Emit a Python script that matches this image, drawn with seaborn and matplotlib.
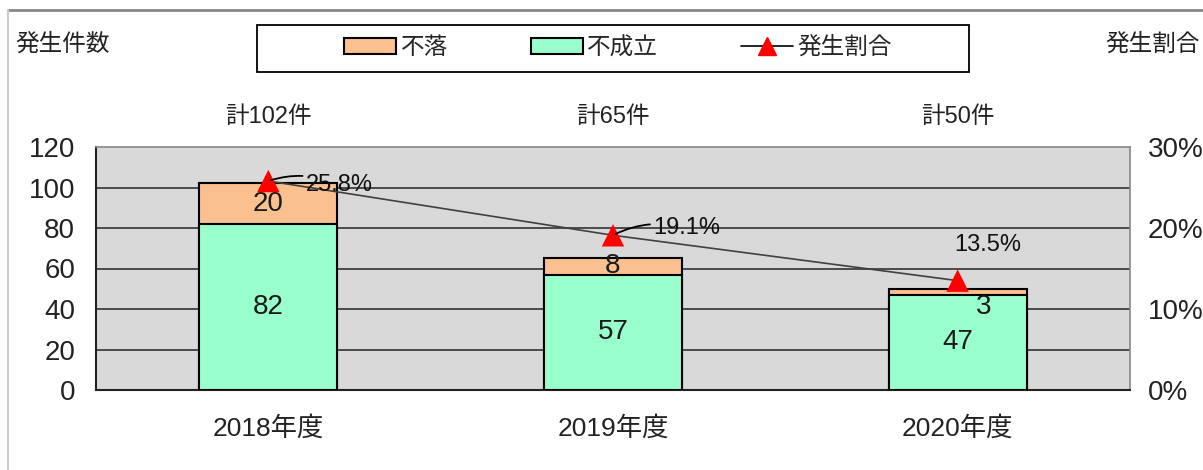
import numpy as np
import pandas as pd
import matplotlib.pyplot as plt
import matplotlib.transforms as mtransforms
from matplotlib.lines import Line2D
from matplotlib.patches import Patch, Rectangle
import seaborn as sns

# data
years = ['2018年度', '2019年度', '2020年度']
furaku = [20, 8, 3]          # 不落
fuseiritsu = [82, 57, 47]    # 不成立
ratio = [25.8, 19.1, 13.5]   # 発生割合 (%)
left_ticks = [0, 20, 40, 60, 80, 100, 120]
right_ticks = [0, 10, 20, 30]

sns.set_style('white')
plt.rcParams['font.family'] = ['Liberation Sans', 'Noto Sans CJK JP', 'DejaVu Sans']

orange = '#FAC090'
green = '#99FFCC'

df = pd.DataFrame({'year': years, 'furaku': furaku, 'fuseiritsu': fuseiritsu})
df['total'] = df['furaku'] + df['fuseiritsu']

fig = plt.figure(figsize=(12.03, 4.70), dpi=100)
ax = fig.add_axes([96 / 1203, 1 - 390 / 470, 1034 / 1203, 243 / 470])
ax.set_facecolor('#D9D9D9')

# stacked bars: total (orange) behind, 不成立 (green) in front
sns.barplot(data=df, x='year', y='total', color=orange, width=0.4,
            edgecolor='black', linewidth=1.5, saturation=1, ax=ax, zorder=3)
sns.barplot(data=df, x='year', y='fuseiritsu', color=green, width=0.4,
            edgecolor='black', linewidth=1.5, saturation=1, ax=ax, zorder=4)

ax.set_ylim(0, 120)
ax.set_yticks(left_ticks)
ax.set_xlim(-0.5, 2.5)
for v in left_ticks[1:-1]:
    ax.axhline(v, color='#404040', lw=1.3, zorder=1)
ax.tick_params(axis='y', labelsize=20, length=0, pad=15, colors='#222222')
ax.tick_params(axis='x', labelsize=19, length=0, pad=19, colors='#222222')
ax.set_xlabel('')
ax.set_ylabel('')
for s in ['left', 'bottom']:
    ax.spines[s].set_color('#222222')
    ax.spines[s].set_linewidth(1.5)
for s in ['top', 'right']:
    ax.spines[s].set_color('#888888')
    ax.spines[s].set_linewidth(1.2)

# value labels inside the bars
x = np.arange(len(years))
for i in x:
    ax.text(i, fuseiritsu[i] / 2, str(fuseiritsu[i]), ha='center', va='center',
            fontsize=20, color='#1a1a1a', zorder=6)
    if furaku[i] >= 5:
        ax.text(i, fuseiritsu[i] + furaku[i] / 2, str(furaku[i]), ha='center',
                va='center', fontsize=20, color='#1a1a1a', zorder=6)
    else:
        # thin slice: label sits just under it, a bit to the right
        ax.annotate(str(furaku[i]), xy=(i, fuseiritsu[i]), xytext=(19, -9),
                    textcoords='offset points', ha='center', va='center',
                    fontsize=20, color='#1a1a1a', zorder=6)

# totals above the plot
trans = mtransforms.blended_transform_factory(ax.transData, ax.transAxes)
for i in x:
    ax.text(i, 1.125, '計' + str(df['total'][i]) + '件', transform=trans,
            ha='center', va='center', fontsize=17, color='#222222')

# ratio line on the right axis
ax2 = ax.twinx()
rdf = pd.DataFrame({'x': x, 'ratio': ratio})
sns.lineplot(data=rdf, x='x', y='ratio', color='#404040', lw=1.2, ax=ax2, zorder=5)
sns.scatterplot(data=rdf, x='x', y='ratio', marker='^', color='red', s=260,
                edgecolor='none', ax=ax2, zorder=6)
ax2.set_ylim(0, 30)
ax2.set_yticks(right_ticks)
ax2.set_yticklabels([str(t) + '%' for t in right_ticks])
ax2.tick_params(axis='y', labelsize=20, length=0, pad=13, colors='#222222')
ax2.set_ylabel('')
ax2.set_xlabel('')
for s in ax2.spines.values():
    s.set_visible(False)

offsets = [(27, -3), (29, 5), (22, 26)]
for i in x:
    dx, dy = offsets[i]
    if i < 2:
        ax2.annotate(f'{ratio[i]:.1f}%', xy=(i, ratio[i]), xytext=(dx, dy),
                     textcoords='offset points', fontsize=17, va='center', ha='left',
                     color='#111111',
                     arrowprops=dict(arrowstyle='-', color='black', lw=1.3,
                                     shrinkA=0, shrinkB=2,
                                     connectionstyle='arc3,rad=0.2'), zorder=7)
    else:
        ax2.annotate(f'{ratio[i]:.1f}%', xy=(i, ratio[i]), xytext=(dx, dy),
                     textcoords='offset points', fontsize=17, va='center', ha='center',
                     color='#111111', zorder=7)

# axis titles
fig.text(15 / 1203, 1 - 45 / 470, '発生件数', fontsize=17, va='center', ha='left', color='#222222')
fig.text(1105 / 1203, 1 - 45 / 470, '発生割合', fontsize=17, va='center', ha='left', color='#222222')

# legend (entries without frame, frame drawn as a wider box like the reference)
handles = [Patch(facecolor=orange, edgecolor='black', lw=1.5),
           Patch(facecolor=green, edgecolor='black', lw=1.5),
           Line2D([0], [0], color='black', lw=1.2, marker='^', markersize=13,
                  markerfacecolor='red', markeredgecolor='red')]
fig.legend(handles, ['不落', '不成立', '発生割合'], loc='center',
           bbox_to_anchor=(618 / 1203, 1 - 48 / 470), ncol=3, fontsize=17,
           frameon=False, columnspacing=3.5, handlelength=2.2, handletextpad=0.2)
fig.add_artist(Rectangle((257 / 1203, 1 - 72 / 470), 712 / 1203, 47 / 470,
                         transform=fig.transFigure, fill=False,
                         edgecolor='black', lw=1.3))

# outer frame of the chart area
fig.add_artist(Line2D([8 / 1203, 1], [1 - 10 / 470, 1 - 10 / 470], color='#888888', lw=2))
fig.add_artist(Line2D([8 / 1203, 8 / 1203], [0, 1 - 10 / 470], color='#cccccc', lw=1.5))

fig.savefig('out.png', dpi=100)
